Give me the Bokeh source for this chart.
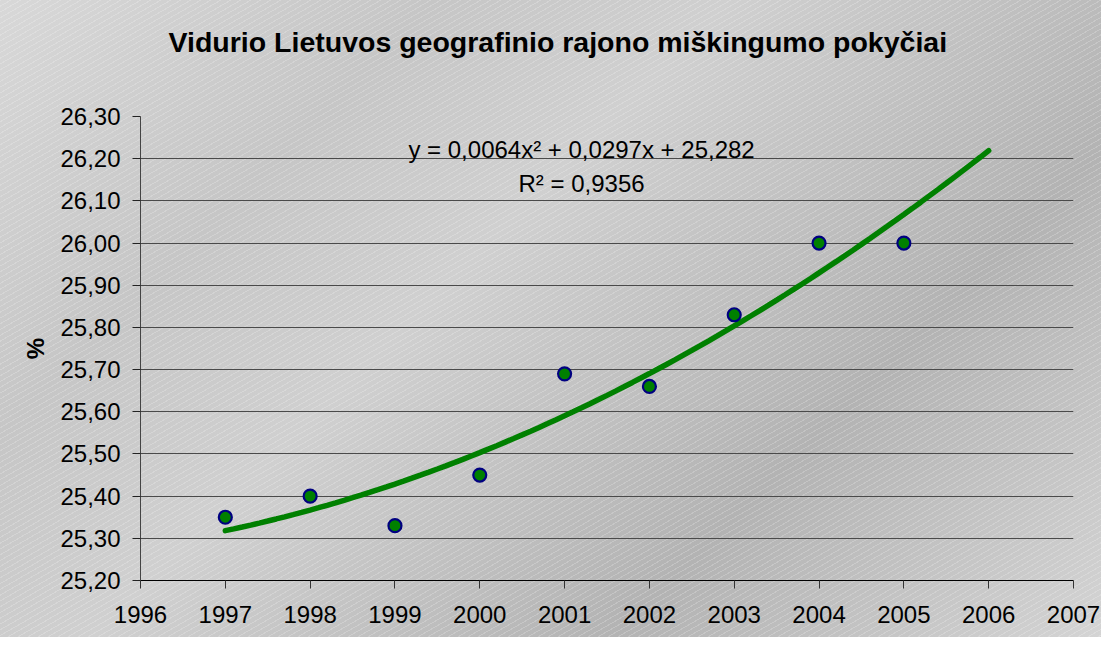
from bokeh.plotting import figure
from bokeh.models import (Range1d, FixedTicker, CustomJSTickFormatter, Label, Title)
from bokeh.embed import file_html
from bokeh.resources import INLINE

# ---- data ----
years = [1997, 1998, 1999, 2000, 2001, 2002, 2003, 2004, 2005]
forest_pct = [25.35, 25.40, 25.33, 25.45, 25.69, 25.66, 25.83, 26.00, 26.00]
trend_coef = [0.0064, 0.0297, 25.282]   # y = a*x^2 + b*x + c, x = 1..10
trend_years = [1997 + i * 0.1 for i in range(91)]
x_ticks = list(range(1996, 2008))
y_ticks = [25.2, 25.3, 25.4, 25.5, 25.6, 25.7, 25.8, 25.9, 26.0, 26.1, 26.2, 26.3]
title_text = "Vidurio Lietuvos geografinio rajono miškingumo pokyčiai"
eq_text = "y = 0,0064x² + 0,0297x + 25,282"
r2_text = "R² = 0,9356"

trend_vals = []
for t in trend_years:
    xi = t - 1996
    trend_vals.append(trend_coef[0] * xi * xi + trend_coef[1] * xi + trend_coef[2])

FONT = "Liberation Sans"

p = figure(width=1101, height=637, output_backend="svg", toolbar_location=None,
           x_range=Range1d(1996, 2007), y_range=Range1d(25.2, 26.3),
           min_border_left=140, min_border_right=28, min_border_top=116,
           min_border_bottom=57, title=None)
p.border_fill_color = None
p.background_fill_color = None
p.outline_line_color = None
p.styles = {
    "background": ("repeating-linear-gradient(150deg, rgba(255,255,255,0.2) 0px, "
                   "rgba(255,255,255,0.2) 1px, rgba(255,255,255,0) 1px, rgba(255,255,255,0) 5px), "
                   "linear-gradient(135deg, #d8d8d8 0%, #c6c6c6 25%, #d0d0d0 42%, "
                   "#b3b3b3 72%, #d4d4d4 100%)")
}

# spacer between frame and title, then the title itself
p.add_layout(Title(text=" ", text_font_size="10px", standoff=41), "above")
p.add_layout(Title(text=title_text, text_font=FONT, text_font_style="bold",
                   text_font_size="28.5px", text_color="black", align="left",
                   offset=28, standoff=10), "above")

# grid
p.xgrid.grid_line_color = None
p.ygrid.ticker = FixedTicker(ticks=y_ticks)
p.ygrid.grid_line_color = "#4a4a4a"
p.ygrid.grid_line_width = 1

# axes
p.xaxis.ticker = FixedTicker(ticks=x_ticks)
p.yaxis.ticker = FixedTicker(ticks=y_ticks)
p.yaxis.formatter = CustomJSTickFormatter(code="return tick.toFixed(2).replace('.', ',');")
for ax in (p.xaxis, p.yaxis):
    ax.major_label_text_font = FONT
    ax.major_label_text_font_size = "24px"
    ax.major_label_text_color = "black"
    ax.major_tick_in = 0
    ax.major_tick_out = 8
    ax.minor_tick_in = 0
    ax.minor_tick_out = 0
p.xaxis.axis_line_color = "black"
p.xaxis.major_tick_line_color = "#333333"
p.yaxis.axis_line_color = "#444444"
p.yaxis.major_tick_line_color = "#222222"
p.xaxis.major_label_standoff = 17
p.yaxis.major_label_standoff = 12
p.yaxis.axis_label = "%"
p.yaxis.axis_label_text_font = FONT
p.yaxis.axis_label_text_font_style = "bold"
p.yaxis.axis_label_text_font_size = "24px"
p.yaxis.axis_label_text_color = "black"
p.yaxis.axis_label_standoff = 8

# trend line
p.line(trend_years, trend_vals, line_color="#008000", line_width=5.5, line_cap="round")
# points
p.scatter(years, forest_pct, size=13, fill_color="#008000", line_color="#000080",
          line_width=2.2)

# equation
p.add_layout(Label(x=2001.2, y=26.222, text=eq_text, text_align="center",
                   text_baseline="alphabetic", text_font=FONT,
                   text_font_size="24px", text_color="black"))
p.add_layout(Label(x=2001.2, y=26.141, text=r2_text, text_align="center",
                   text_baseline="alphabetic", text_font=FONT,
                   text_font_size="24px", text_color="black"))

open("out.html", "w").write(file_html(p, INLINE))
